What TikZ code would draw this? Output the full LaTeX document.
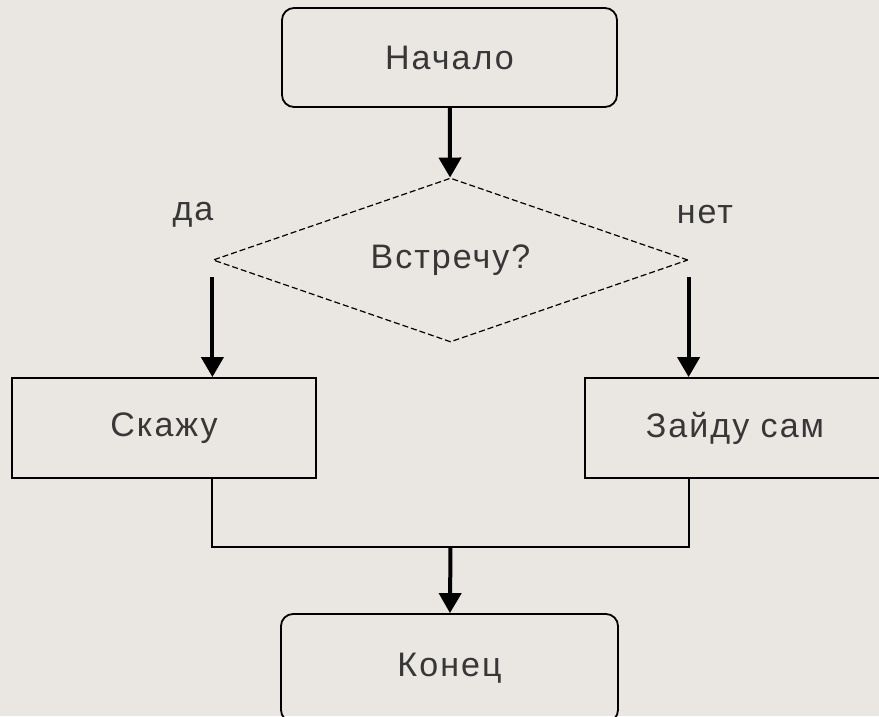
\documentclass[tikz,border=0pt]{standalone}
\usepackage{fontspec}
\newfontfamily\flowfont[LetterSpace=6]{Liberation Sans}
\usepackage{xcolor}
\usepackage{tikz}
\usetikzlibrary{calc, shapes.geometric, arrows.meta, positioning}
\definecolor{paper}{RGB}{234,230,226}
\definecolor{ink}{RGB}{55,55,55}
\tikzset{
    roundnode/.style = {draw, rectangle, rounded corners=12pt, line width=1.8pt,
      inner sep=0pt, font=\flowfont\fontsize{34}{40}\selectfont, text=ink},
    rectanglenode/.style = {draw, rectangle, line width=1.8pt, inner sep=0pt,
      font=\flowfont\fontsize{34}{40}\selectfont, text=ink},
    diamondnode/.style = {draw, diamond, aspect=4, dash pattern=on 6pt off 3pt, line width=1.2pt,
      inner sep=0pt, font=\flowfont\fontsize{34}{40}\selectfont, text=ink},
    textnode/.style = {draw=none, fill=none, inner sep=0pt, font=\flowfont\fontsize{34}{40}\selectfont, text=ink},
    connect/.style = {black, line width=2pt},
    flowarrow/.style = {black, line width=4pt, -{Triangle[width=22pt,length=20pt]}}
}
\begin{document}
\begin{tikzpicture}[x=1pt, y=-1pt]
    \useasboundingbox[fill=paper] (0,0) rectangle (879,716);

    \node [name=start, roundnode, minimum width=335pt, minimum height=99pt] at (449.5,57.5) {Начало};
    \node [name=decide, diamondnode, minimum width=475pt, minimum height=164pt] at (450.5,260) {Встречу?};

    \node [name=yes, textnode] at (193,215) {да};
    \node [name=no, textnode] at (705,215) {нет};

    \node [name=sayit, rectanglenode, minimum width=304pt, minimum height=100pt] at (164,428) {Скажу};
    \node [name=gomyself, rectanglenode, minimum width=300pt, minimum height=100pt] at (735,428) {Зайду сам};

    \node [name=finish, roundnode, minimum width=337pt, minimum height=108pt] at (449.5,668) {Конец};

    \coordinate (merge) at (450.5,547);

    \draw [flowarrow] (start) -- (decide);
    \draw [flowarrow] ([yshift=-17pt]decide.west) -- (decide.west |- sayit.north);
    \draw [flowarrow] ([yshift=-17pt]decide.east) -- (decide.east |- gomyself.north);
    \draw [connect] (decide.west |- sayit.south) |- (merge) -| (decide.east |- gomyself.south);
    \draw [flowarrow] (merge) -- (finish);
\end{tikzpicture}
\end{document}
